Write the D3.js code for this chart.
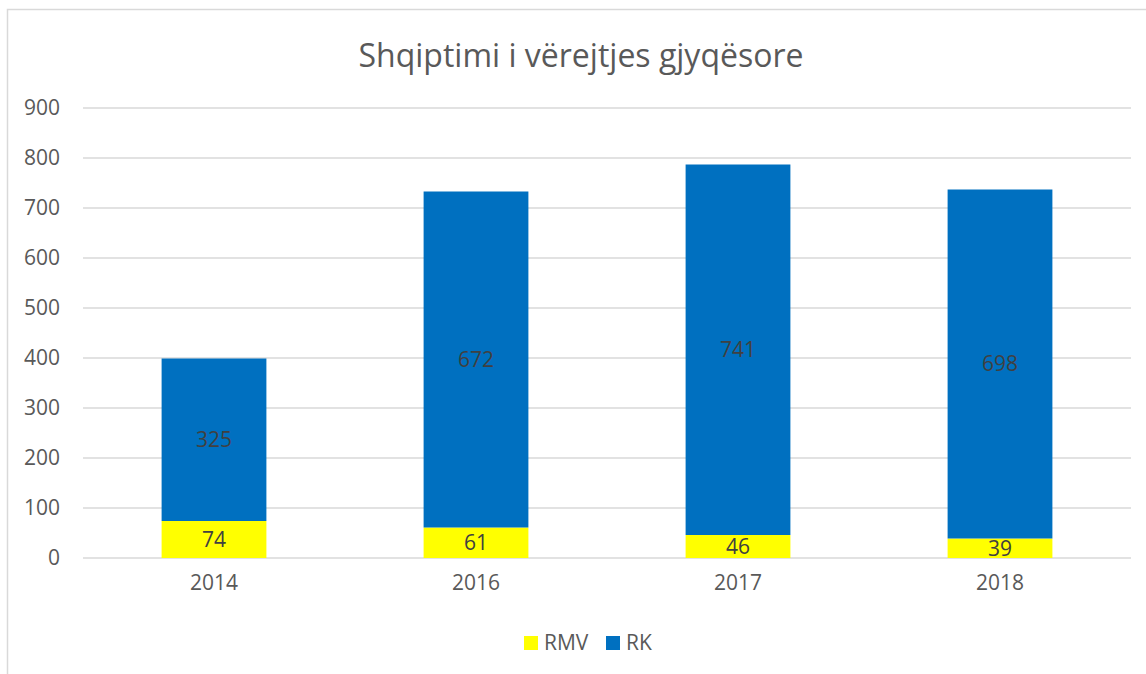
<!DOCTYPE html>
<html><head><meta charset="utf-8">
<script src="https://cdn.jsdelivr.net/npm/d3@7"></script>
<style>body{margin:0;background:#fff}svg{display:block}</style>
</head><body>
<div id="chart"></div>
<script>
const categories = ["2014", "2016", "2017", "2018"];
const rmvValues = [74, 61, 46, 39];
const rkValues = [325, 672, 741, 698];
const seriesNames = ["RMV", "RK"];
const seriesColors = ["#FFFF00", "#0070C0"];
const yTicks = [0, 100, 200, 300, 400, 500, 600, 700, 800, 900];
const title = "Shqiptimi i vërejtjes gjyqësore";

const W = 1146, H = 674;
const font = "'Open Sans', sans-serif";
const svg = d3.select("#chart").append("svg").attr("width", W).attr("height", H);

// outer border
svg.append("rect").attr("x", 7.5).attr("y", 9.5).attr("width", W + 10).attr("height", H + 10)
  .attr("fill", "none").attr("stroke", "#d9d9d9").attr("stroke-width", 1.5);

const plot = {left: 83, right: 1131, top: 108, bottom: 558};
const x = d3.scaleBand().domain(categories).range([plot.left, plot.right]).paddingInner(0.6).paddingOuter(0.3);
const y = d3.scaleLinear().domain([0, 900]).range([plot.bottom, plot.top]);

// gridlines
svg.append("g").selectAll("line").data(yTicks).join("line")
  .attr("x1", plot.left).attr("x2", plot.right)
  .attr("y1", d => y(d)).attr("y2", d => y(d))
  .attr("stroke", "#d9d9d9").attr("stroke-width", 1.5);

// y axis labels
const yAxis = d3.axisLeft(y).tickValues(yTicks).tickSize(0).tickPadding(0);
const gy = svg.append("g").attr("transform", `translate(${plot.left - 23},0)`).call(yAxis);
gy.select(".domain").remove();
gy.selectAll("text").attr("font-family", font).attr("font-size", 21).attr("fill", "#595959");

// x axis labels
const xAxis = d3.axisBottom(x).tickSize(0).tickPadding(0);
const gx = svg.append("g").attr("transform", `translate(0,${plot.bottom + 17})`).call(xAxis);
gx.select(".domain").remove();
gx.selectAll("text").attr("font-family", font).attr("font-size", 21).attr("fill", "#595959");

// stacked data
const table = categories.map((c, i) => ({cat: c, RMV: rmvValues[i], RK: rkValues[i]}));
const stack = d3.stack().keys(seriesNames)(table);
const color = d3.scaleOrdinal().domain(seriesNames).range(seriesColors);

const layers = svg.append("g").selectAll("g").data(stack).join("g").attr("fill", d => color(d.key));
layers.selectAll("rect").data(d => d).join("rect")
  .attr("x", d => x(d.data.cat))
  .attr("width", x.bandwidth())
  .attr("y", d => y(d[1]))
  .attr("height", d => y(d[0]) - y(d[1]));

// data labels
const labels = svg.append("g").selectAll("g").data(stack).join("g");
labels.selectAll("text").data(d => d.map(v => ({v, key: d.key}))).join("text")
  .attr("x", d => x(d.v.data.cat) + x.bandwidth() / 2)
  .attr("y", d => (y(d.v[0]) + y(d.v[1])) / 2)
  .attr("dy", "0.35em")
  .attr("text-anchor", "middle")
  .attr("font-family", font).attr("font-size", 21).attr("fill", "#404040")
  .text(d => d.v.data[d.key]);

// title
svg.append("text").attr("x", 581).attr("y", 67).attr("text-anchor", "middle")
  .attr("font-family", font).attr("font-size", 32).attr("fill", "#595959").text(title);

// legend
const legend = svg.append("g");
const legendPos = [524, 606];
seriesNames.forEach((s, i) => {
  const g = legend.append("g").attr("transform", `translate(${legendPos[i]},636)`);
  g.append("rect").attr("width", 14).attr("height", 14).attr("fill", color(s));
  g.append("text").attr("x", 20).attr("y", 7).attr("dy", "0.35em")
    .attr("font-family", font).attr("font-size", 21).attr("fill", "#595959").text(s);
});
</script>
</body></html>
